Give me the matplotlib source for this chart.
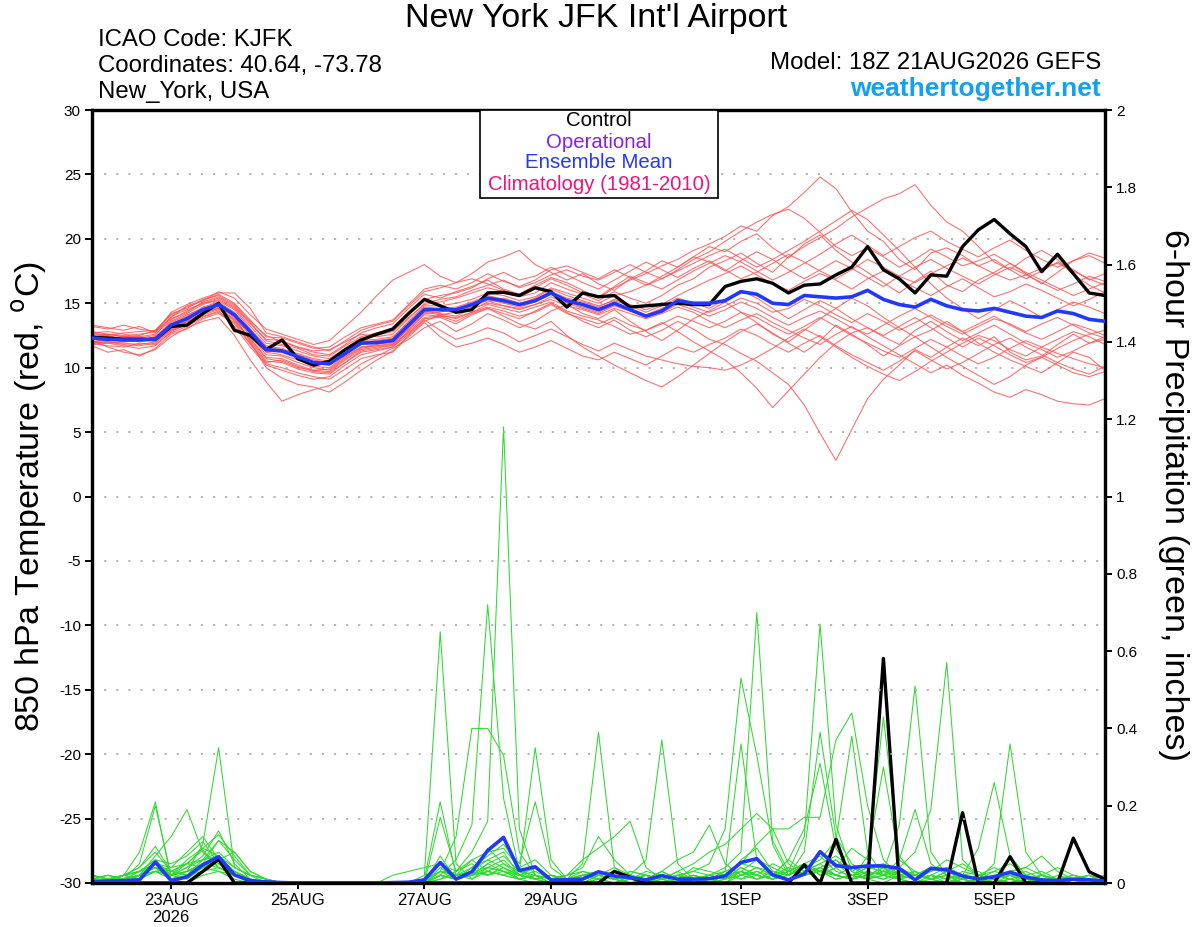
"""GEFS plume for New York JFK (KJFK), 18Z 21AUG2026 run: 850 hPa temperature
members (red) on the left axis, 6-hour precipitation members (green) on the
right axis, control in black and ensemble mean in blue. Agg, writes out.png."""
import matplotlib
matplotlib.use("Agg")
import matplotlib.pyplot as plt  # noqa: E402
import numpy as np  # noqa: E402
from matplotlib.patches import Rectangle  # noqa: E402

RED, GREEN, BLUE = "#ff5050", "#30d830", "#2238ff"
PURPLE, PINK, SKY = "#8a1ee6", "#f0127f", "#12a0f2"
plt.rcParams.update({"font.family": ["Liberation Sans", "DejaVu Sans"],
                     "font.size": 11, "axes.unicode_minus": False})

RUN_START = "2026-08-21T18:00"
FORECAST_HOURS = list(range(0, 385, 6))          # 65 steps, 6-hourly

TICK_DAYS = ["2026-08-23", "2026-08-25", "2026-08-27", "2026-08-29",
             "2026-09-01", "2026-09-03", "2026-09-05"]
TICK_LABELS = ["23AUG\n2026", "25AUG", "27AUG", "29AUG", "1SEP", "3SEP", "5SEP"]

# 850 hPa temperature, deg C
temp_control = [
    12.35, 12.3, 12.2, 12.2, 12.2, 13.2, 13.3, 14.2, 15.0, 12.9, 12.5, 11.4, 12.15,
    10.7, 10.2, 10.5, 11.4, 12.15, 12.6, 13.0, 14.2, 15.3, 14.8, 14.3, 14.5, 15.8,
    15.85, 15.6, 16.2, 15.9, 14.7, 15.8, 15.5, 15.6, 14.7, 14.8, 14.9, 15.0, 14.9,
    14.9, 16.3, 16.7, 16.9, 16.55, 15.8, 16.4, 16.5, 17.2, 17.8, 19.4, 17.6, 16.9,
    15.8, 17.2, 17.1, 19.4, 20.7, 21.5, 20.4, 19.4, 17.45, 18.8, 17.3, 15.8, 15.6]
temp_mean = [
    12.3, 12.2, 12.15, 12.15, 12.2, 13.3, 13.8, 14.5, 14.9, 14.1, 12.8, 11.4, 11.3,
    10.85, 10.4, 10.3, 11.1, 11.9, 11.95, 12.1, 13.3, 14.5, 14.5, 14.5, 14.9, 15.4,
    15.2, 14.9, 15.2, 15.8, 15.2, 14.9, 14.5, 15.0, 14.5, 14.0, 14.4, 15.2, 15.0,
    15.0, 15.2, 15.9, 15.7, 15.0, 14.9, 15.6, 15.5, 15.4, 15.5, 16.0, 15.3, 14.9,
    14.7, 15.3, 14.8, 14.5, 14.4, 14.6, 14.3, 14.0, 13.9, 14.4, 14.2, 13.75, 13.6]
temp_members = [
    [12.8, 12.6, 12.4, 12.5, 12.9, 14.2, 14.6, 15.3, 15.6, 14.9, 13.6, 12.5, 12.0,
     11.6, 11.2, 11.0, 11.8, 12.7, 13.1, 13.4, 14.6, 15.7, 15.4, 15.9, 16.3, 16.8,
     16.1, 15.7, 16.4, 17.0, 16.6, 16.0, 15.4, 16.2, 16.8, 17.3, 17.9, 18.4, 19.1,
     19.6, 20.2, 21.0, 20.6, 21.8, 22.5, 23.6, 24.8, 23.9, 22.1, 20.6, 19.8, 18.4,
     17.6, 18.9, 19.3, 18.7, 17.9, 18.4, 17.6, 16.9, 17.5, 18.2, 17.6, 16.8, 17.3],
    [11.9, 11.7, 11.6, 11.9, 11.8, 12.7, 13.2, 13.9, 14.4, 13.2, 11.6, 10.2, 9.8,
     9.4, 9.1, 9.3, 10.2, 11.0, 11.3, 11.6, 12.6, 13.8, 13.9, 13.4, 14.1, 14.6,
     14.2, 13.8, 14.4, 15.0, 14.3, 13.6, 13.1, 13.7, 12.9, 12.4, 12.9, 13.6, 13.0,
     12.2, 11.8, 11.1, 10.5, 9.6, 8.7, 7.1, 4.9, 2.8, 5.2, 7.6, 9.1, 10.2,
     11.4, 10.8, 11.6, 12.3, 11.7, 12.4, 11.2, 10.6, 10.9, 11.8, 12.6, 11.9, 12.4],
    [13.2, 13.0, 13.3, 13.0, 12.8, 13.9, 14.8, 15.2, 15.9, 15.4, 14.1, 13.0, 12.6,
     12.2, 11.8, 12.1, 13.2, 14.3, 15.6, 16.8, 17.4, 18.0, 17.1, 16.6, 17.3, 18.2,
     18.6, 19.1, 18.0, 17.4, 16.8, 17.3, 16.5, 16.0, 16.9, 17.5, 18.3, 17.8, 18.6,
     19.4, 19.0, 19.8, 20.4, 19.3, 18.5, 19.6, 20.3, 19.1, 18.2, 17.4, 16.6, 15.8,
     16.7, 17.5, 16.4, 15.9, 16.8, 17.4, 18.1, 17.3, 16.5, 17.4, 18.3, 18.7, 18.1],
    [12.1, 11.6, 11.2, 11.0, 11.4, 12.4, 13.1, 13.6, 13.9, 12.5, 10.6, 8.9, 7.4,
     7.9, 8.3, 8.6, 9.4, 10.3, 10.9, 11.5, 12.2, 13.1, 13.6, 12.8, 13.4, 14.2,
     13.7, 13.1, 13.6, 14.4, 14.9, 14.2, 13.8, 14.5, 13.6, 12.8, 12.1, 12.9, 13.8,
     14.4, 15.1, 14.3, 13.5, 12.6, 12.0, 12.9, 13.8, 14.6, 15.4, 14.8, 13.9, 13.1,
     12.4, 12.9, 13.6, 12.8, 11.9, 11.2, 10.6, 10.1, 9.6, 10.4, 11.2, 10.8, 9.8],
    [12.4, 12.5, 12.2, 12.0, 12.3, 13.6, 14.2, 14.9, 15.3, 14.6, 13.2, 11.9, 11.7,
     11.3, 10.9, 10.7, 11.5, 12.3, 12.5, 12.8, 13.9, 14.9, 15.1, 15.4, 15.8, 16.2,
     15.9, 15.5, 15.8, 16.6, 16.1, 15.7, 15.2, 15.9, 15.4, 15.0, 15.6, 16.4, 16.9,
     17.8, 18.3, 18.9, 18.1, 17.4, 18.6, 19.4, 20.1, 20.8, 21.7, 22.4, 23.1, 23.5,
     24.2, 22.6, 21.3, 20.6, 19.4, 18.2, 17.6, 18.5, 19.1, 18.4, 17.2, 16.4, 15.8],
    [12.0, 12.1, 12.3, 12.4, 12.0, 13.0, 13.5, 14.3, 14.6, 13.7, 12.3, 10.8, 10.7,
     10.2, 9.8, 9.7, 10.6, 11.4, 11.6, 11.7, 12.9, 14.1, 14.0, 13.6, 14.2, 14.6,
     14.0, 13.4, 13.0, 13.6, 12.5, 11.6, 10.9, 10.2, 9.6, 9.0, 8.5, 9.3, 10.2,
     11.1, 12.0, 12.8, 13.4, 12.7, 11.9, 11.2, 12.1, 13.3, 12.6, 11.8, 10.9, 11.7,
     12.4, 11.6, 10.8, 10.1, 9.4, 8.7, 9.3, 10.2, 10.8, 11.5, 12.1, 12.6, 12.9],
    [12.5, 12.3, 12.0, 12.1, 12.4, 13.4, 14.0, 14.7, 15.1, 14.3, 12.6, 11.2, 11.0,
     10.6, 10.1, 10.0, 10.9, 11.6, 11.8, 12.0, 13.2, 14.4, 14.2, 14.0, 14.6, 15.0,
     14.8, 14.5, 14.9, 15.3, 14.8, 14.5, 14.1, 14.6, 14.2, 13.8, 14.2, 14.7, 14.3,
     13.6, 13.1, 13.7, 14.2, 13.5, 12.9, 12.3, 11.8, 12.6, 13.2, 12.4, 11.7, 11.0,
     10.3, 9.6, 10.2, 9.4, 8.8, 8.1, 7.7, 8.3, 7.9, 7.4, 7.2, 7.1, 7.6],
    [11.8, 11.9, 11.7, 11.5, 11.7, 12.8, 13.4, 14.1, 14.5, 13.8, 12.1, 10.5, 10.4,
     9.9, 9.6, 9.5, 10.4, 11.2, 11.4, 11.6, 12.8, 13.9, 14.0, 13.9, 14.3, 14.9,
     14.6, 14.3, 14.7, 15.1, 14.4, 14.0, 13.7, 13.2, 12.6, 12.9, 13.5, 12.8, 12.0,
     11.3, 10.6, 9.6, 8.4, 6.9, 8.2, 9.5, 10.8, 11.9, 12.7, 13.1, 12.4, 11.8,
     12.9, 13.6, 12.8, 12.1, 12.7, 13.3, 12.6, 11.9, 11.4, 10.8, 11.3, 11.9, 12.2],
    [12.7, 12.8, 12.6, 12.3, 12.5, 14.0, 14.5, 15.0, 15.4, 14.7, 13.4, 12.2, 12.1,
     11.6, 11.3, 11.4, 12.0, 12.6, 12.4, 12.6, 13.8, 15.0, 15.3, 15.5, 16.0, 16.4,
     16.8, 16.2, 16.6, 17.2, 17.6, 17.1, 16.8, 17.4, 18.0, 17.4, 16.9, 17.6, 18.4,
     19.0, 19.8, 20.6, 21.3, 21.9, 22.3, 21.6, 20.5, 19.4, 18.7, 19.3, 18.6, 17.8,
     18.4, 19.2, 18.6, 17.9, 18.3, 18.8, 18.1, 17.4, 16.8, 16.2, 15.6, 16.1, 16.6],
    [12.2, 12.0, 11.9, 11.8, 12.0, 13.1, 13.6, 14.2, 14.7, 13.9, 12.5, 11.0, 10.9,
     10.4, 10.0, 9.8, 10.7, 11.5, 11.7, 11.9, 13.0, 14.2, 14.3, 14.6, 14.8, 15.2,
     14.8, 14.6, 14.9, 15.5, 15.0, 14.6, 14.2, 14.8, 14.4, 14.1, 14.6, 15.1, 14.7,
     14.3, 14.8, 15.4, 15.0, 14.3, 14.6, 15.3, 14.8, 14.1, 13.5, 14.2, 13.6, 12.9,
     13.5, 14.1, 13.4, 12.8, 13.4, 14.0, 13.3, 12.7, 12.2, 12.8, 13.4, 13.0, 12.5],
    [12.3, 12.6, 12.5, 12.6, 12.8, 13.8, 14.3, 15.1, 15.5, 14.8, 13.5, 12.1, 11.8,
     11.5, 11.0, 10.9, 11.7, 12.4, 12.7, 13.0, 14.1, 15.3, 15.6, 15.8, 16.2, 16.9,
     17.4, 16.8, 17.1, 17.8, 17.2, 16.6, 16.1, 16.8, 17.5, 18.2, 17.6, 17.0, 17.7,
     18.3, 17.6, 16.9, 17.4, 18.1, 18.8, 18.2, 17.5, 16.9, 17.6, 18.4, 17.8, 17.1,
     16.6, 17.3, 17.9, 18.5, 17.9, 17.3, 16.8, 17.2, 17.7, 18.1, 17.5, 16.9, 16.4],
    [11.7, 11.2, 11.4, 10.9, 11.5, 12.6, 13.0, 13.8, 14.2, 13.4, 11.8, 10.3, 10.0,
     9.6, 9.3, 9.1, 9.9, 10.7, 11.0, 11.2, 12.4, 13.5, 12.4, 11.6, 11.9, 12.3,
     11.8, 11.2, 11.6, 12.1, 11.5, 10.9, 10.6, 11.2, 10.7, 10.2, 10.9, 11.6, 11.2,
     11.8, 12.3, 13.0, 12.5, 11.8, 11.2, 11.9, 12.5, 11.7, 11.0, 10.4, 9.8, 10.5,
     11.3, 10.6, 9.9, 10.4, 11.1, 11.8, 12.3, 11.6, 11.0, 10.4, 9.9, 9.5, 10.1],
    [12.4, 12.2, 12.1, 12.3, 12.1, 13.2, 13.9, 14.4, 14.8, 14.0, 12.0, 10.0, 9.2,
     8.7, 8.5, 8.1, 8.9, 9.8, 10.6, 11.3, 12.5, 13.6, 14.1, 14.3, 14.5, 15.1,
     15.4, 15.0, 15.3, 15.9, 15.4, 15.1, 14.7, 15.3, 14.9, 14.5, 14.9, 15.6, 16.2,
     16.8, 17.3, 17.9, 17.2, 16.5, 16.0, 16.7, 17.3, 16.8, 16.1, 16.9, 17.5, 16.8,
     16.2, 15.6, 16.3, 16.9, 16.2, 15.5, 15.9, 16.5, 16.0, 15.4, 14.8, 15.3, 15.9],
    [12.6, 12.4, 12.3, 12.1, 12.4, 13.5, 14.1, 14.6, 14.9, 14.2, 12.9, 11.6, 11.4,
     11.1, 10.7, 10.5, 11.3, 12.1, 12.2, 12.4, 13.5, 14.7, 14.6, 14.7, 15.1, 15.6,
     15.3, 14.9, 15.4, 16.1, 15.6, 15.2, 14.8, 15.2, 14.8, 14.3, 14.8, 15.4, 15.0,
     14.6, 15.3, 16.0, 15.4, 14.6, 13.8, 14.5, 15.2, 14.6, 13.8, 13.1, 12.5, 13.2,
     13.9, 13.1, 12.3, 11.6, 12.3, 11.7, 11.0, 10.4, 10.8, 10.2, 9.6, 9.3, 9.7],
    [13.3, 13.1, 12.9, 13.2, 12.7, 14.3, 14.9, 15.4, 15.8, 15.8, 14.6, 12.7, 12.4,
     12.0, 11.6, 11.3, 12.1, 12.9, 13.3, 13.6, 14.8, 15.9, 16.2, 16.6, 16.9, 16.5,
     16.0, 15.7, 16.2, 16.9, 16.4, 15.8, 15.5, 16.3, 17.1, 16.6, 16.1, 16.8, 17.5,
     18.1, 18.7, 18.2, 17.5, 16.8, 17.4, 18.1, 18.8, 19.6, 20.3, 19.5, 18.7, 19.4,
     20.1, 20.6, 19.8, 19.2, 18.6, 19.3, 19.9, 19.1, 18.4, 17.8, 18.3, 18.9, 18.5],
    [12.0, 11.9, 12.0, 12.2, 12.1, 12.9, 13.3, 14.0, 14.3, 13.5, 11.9, 10.4, 10.6,
     10.1, 9.7, 9.6, 10.4, 11.3, 11.5, 11.8, 12.7, 13.7, 12.9, 12.2, 12.6, 13.1,
     12.7, 12.0, 12.5, 13.0, 12.4, 11.8, 11.3, 11.9, 11.4, 10.9, 10.6, 10.3, 10.1,
     10.0, 9.8, 10.2, 10.8, 11.5, 12.3, 13.0, 12.4, 11.6, 10.8, 10.1, 9.5, 9.0,
     9.7, 10.5, 11.2, 11.9, 12.5, 12.1, 11.4, 10.9, 11.6, 12.2, 12.8, 12.4, 11.8],
    [12.5, 12.6, 12.4, 12.4, 12.6, 13.7, 14.4, 15.0, 15.2, 14.5, 13.0, 11.7, 11.5,
     11.0, 10.6, 10.4, 11.2, 12.0, 12.1, 12.3, 13.6, 14.8, 14.8, 15.0, 15.3, 15.8,
     15.6, 15.2, 15.5, 16.2, 15.8, 15.4, 15.0, 15.6, 15.9, 16.4, 16.9, 17.5, 18.1,
     18.7, 19.2, 18.5, 17.8, 18.4, 19.1, 19.8, 20.6, 21.4, 22.2, 21.5, 20.3, 19.1,
     17.8, 16.5, 15.4, 14.6, 13.8, 14.5, 15.2, 14.6, 13.9, 14.5, 15.1, 14.7, 14.2],
    [12.2, 12.3, 12.4, 12.2, 12.3, 13.3, 13.8, 14.5, 15.0, 14.1, 12.7, 11.3, 11.2,
     10.8, 10.3, 10.2, 11.0, 11.8, 12.0, 12.2, 13.4, 14.6, 14.4, 14.3, 14.7, 15.3,
     15.0, 14.7, 15.1, 15.7, 15.1, 14.7, 14.3, 14.9, 14.4, 13.9, 14.3, 14.9, 14.5,
     14.0, 14.5, 15.1, 14.6, 13.9, 13.3, 13.9, 14.4, 13.8, 13.1, 12.6, 13.3, 14.0,
     14.6, 13.9, 13.2, 12.6, 13.2, 13.8, 13.4, 12.8, 13.4, 13.9, 13.3, 12.7, 12.3],
    [12.7, 12.5, 12.7, 12.8, 12.9, 14.1, 14.7, 15.2, 15.7, 15.0, 13.7, 12.4, 12.3,
     11.9, 11.5, 11.6, 12.4, 13.1, 13.4, 13.7, 14.9, 16.1, 16.4, 16.1, 16.6, 17.3,
     16.7, 16.3, 16.8, 17.6, 17.9, 17.4, 16.9, 17.6, 17.0, 16.4, 17.1, 17.8, 18.6,
     18.2, 17.5, 18.3, 19.0, 18.4, 17.6, 16.9, 17.6, 18.3, 17.7, 17.0, 16.3, 17.1,
     17.8, 18.4, 17.7, 17.1, 16.5, 17.2, 17.8, 17.2, 16.6, 16.0, 16.5, 17.1, 16.7],
    [11.9, 12.0, 11.8, 11.7, 11.9, 12.9, 13.6, 14.2, 14.6, 13.6, 12.2, 10.7, 10.5,
     10.0, 9.8, 9.9, 10.8, 11.6, 11.7, 11.8, 13.1, 14.3, 14.1, 13.8, 14.3, 14.7,
     14.4, 14.0, 14.3, 14.9, 14.2, 13.8, 13.4, 13.9, 13.3, 12.9, 13.4, 14.0, 13.6,
     13.1, 13.6, 14.3, 13.9, 13.2, 12.6, 13.2, 13.9, 13.2, 12.5, 11.9, 11.3, 10.8,
     11.5, 12.2, 11.6, 10.9, 10.3, 10.8, 11.5, 12.1, 11.6, 11.1, 10.7, 10.3, 10.0],
]

# 6-hour precipitation, inches
precip_control = [
    0, 0, 0, 0, 0, 0, 0, 0.03, 0.061, 0, 0, 0, 0,
    0, 0, 0, 0, 0, 0, 0, 0, 0, 0, 0, 0, 0,
    0, 0, 0, 0, 0, 0, 0, 0.03, 0.015, 0, 0, 0, 0,
    0, 0, 0, 0, 0, 0, 0.047, 0, 0.113, 0, 0, 0.581, 0,
    0, 0, 0, 0.182, 0, 0, 0.068, 0, 0, 0, 0.116, 0.029, 0.01]
precip_mean = [
    0.003, 0.005, 0.006, 0.008, 0.054, 0.006, 0.016, 0.047, 0.068, 0.021, 0.006, 0.003, 0.001,
    0, 0, 0, 0, 0, 0, 0.001, 0.002, 0.008, 0.053, 0.01, 0.029, 0.084,
    0.118, 0.032, 0.042, 0.008, 0.008, 0.01, 0.029, 0.018, 0.014, 0.008, 0.019, 0.01, 0.01,
    0.011, 0.018, 0.053, 0.063, 0.021, 0.008, 0.023, 0.081, 0.045, 0.04, 0.044, 0.044, 0.038,
    0.008, 0.038, 0.034, 0.018, 0.01, 0.016, 0.028, 0.015, 0.008, 0.006, 0.01, 0.008, 0.005]
precip_members = [
    [0.01, 0.01, 0.02, 0.08, 0.21, 0.01, 0, 0.02, 0.03, 0.01, 0, 0, 0,
     0, 0, 0, 0, 0, 0, 0, 0, 0.02, 0.65, 0.05, 0.01, 0.03,
     0.02, 0.01, 0, 0, 0, 0.01, 0.03, 0.01, 0, 0, 0.02, 0.01, 0,
     0, 0.01, 0.04, 0.02, 0.01, 0.03, 0.12, 0.67, 0.15, 0.03, 0.01, 0, 0.02,
     0.01, 0, 0, 0.02, 0.01, 0, 0, 0.01, 0, 0, 0, 0, 0],
    [0.02, 0.01, 0.01, 0.05, 0.20, 0.02, 0.01, 0.04, 0.06, 0.02, 0.01, 0, 0,
     0, 0, 0, 0, 0, 0, 0, 0, 0.01, 0.21, 0.02, 0.03, 0.06,
     0.04, 0.02, 0.01, 0, 0.01, 0, 0.02, 0.04, 0.02, 0.01, 0, 0, 0.01,
     0.02, 0.01, 0.06, 0.09, 0.03, 0.02, 0.08, 0.39, 0.12, 0.05, 0.02, 0.04, 0.01,
     0.03, 0.01, 0, 0.01, 0.02, 0.01, 0.03, 0.01, 0, 0.01, 0, 0, 0],
    [0.01, 0, 0.02, 0.04, 0.095, 0.03, 0.05, 0.09, 0.07, 0.03, 0.01, 0, 0,
     0, 0, 0, 0, 0, 0, 0, 0, 0, 0.17, 0.03, 0.05, 0.02,
     0.03, 0.01, 0.02, 0, 0, 0.02, 0.01, 0, 0.01, 0.02, 0.01, 0, 0.02,
     0.01, 0.03, 0.05, 0.10, 0.14, 0.14, 0.17, 0.17, 0.37, 0.44, 0.20, 0.06, 0.02,
     0.01, 0.02, 0, 0.01, 0, 0.02, 0.01, 0, 0.01, 0, 0, 0.01, 0],
    [0, 0.01, 0.01, 0.03, 0.06, 0.02, 0.03, 0.05, 0.11, 0.06, 0.02, 0.01, 0,
     0, 0, 0, 0, 0, 0, 0, 0, 0, 0.07, 0.01, 0.02, 0.09,
     0.05, 0.03, 0.02, 0.01, 0, 0, 0.01, 0.02, 0.01, 0, 0.01, 0.03, 0.01,
     0, 0.02, 0.03, 0.01, 0.02, 0.06, 0.14, 0.31, 0.09, 0.03, 0.05, 0.02, 0.01,
     0, 0.01, 0.02, 0.01, 0, 0, 0.02, 0.01, 0, 0, 0.01, 0, 0],
    [0.01, 0.02, 0.01, 0.02, 0.07, 0.12, 0.19, 0.08, 0.04, 0.02, 0.01, 0, 0,
     0, 0, 0, 0, 0, 0, 0, 0, 0.01, 0.03, 0.12, 0.40, 0.40,
     0.33, 0.08, 0.02, 0, 0.01, 0.01, 0.02, 0.01, 0, 0.01, 0.03, 0.01, 0,
     0.01, 0, 0.02, 0.01, 0.03, 0.02, 0.04, 0.06, 0.11, 0.38, 0.08, 0.02, 0.01,
     0, 0.02, 0.01, 0, 0.01, 0.02, 0.01, 0, 0, 0.01, 0.01, 0, 0],
    [0, 0.01, 0, 0.02, 0.04, 0.01, 0.03, 0.10, 0.35, 0.04, 0.02, 0.01, 0,
     0, 0, 0, 0, 0, 0, 0, 0, 0, 0.02, 0.06, 0.15, 0.72,
     0.22, 0.03, 0.01, 0.02, 0, 0, 0.01, 0.02, 0, 0, 0.01, 0, 0.01,
     0.02, 0.03, 0.01, 0.02, 0.01, 0.03, 0.05, 0.02, 0.04, 0.09, 0.06, 0.43, 0.07,
     0.02, 0.01, 0, 0.01, 0, 0, 0.01, 0, 0.02, 0.01, 0, 0, 0],
    [0.01, 0, 0.01, 0.01, 0.03, 0.02, 0.04, 0.07, 0.135, 0.05, 0.01, 0, 0,
     0, 0, 0, 0, 0, 0, 0, 0, 0, 0.01, 0.03, 0.08, 0.16,
     1.18, 0.14, 0.02, 0.01, 0, 0.02, 0.01, 0, 0.01, 0.02, 0, 0.01, 0.02,
     0, 0.01, 0.02, 0.04, 0.02, 0.01, 0.03, 0.05, 0.02, 0.01, 0.07, 0.30, 0.06,
     0.03, 0.01, 0.02, 0, 0, 0.01, 0, 0.01, 0, 0, 0.01, 0.02, 0],
    [0, 0.01, 0.02, 0.03, 0.05, 0.02, 0.06, 0.09, 0.125, 0.07, 0.02, 0.01, 0,
     0, 0, 0, 0, 0, 0, 0, 0, 0, 0.04, 0.01, 0.02, 0.05,
     0.07, 0.03, 0.35, 0.06, 0.01, 0, 0.02, 0.01, 0, 0.01, 0, 0.02, 0.01,
     0.01, 0, 0.03, 0.02, 0.01, 0.04, 0.02, 0.03, 0.01, 0.02, 0.04, 0.03, 0.15,
     0.51, 0.08, 0.02, 0.01, 0, 0.01, 0.02, 0, 0.01, 0, 0, 0.01, 0],
    [0.02, 0.01, 0.01, 0.02, 0.04, 0.03, 0.05, 0.06, 0.11, 0.08, 0.03, 0.01, 0,
     0, 0, 0, 0, 0, 0, 0, 0, 0, 0.03, 0.02, 0.04, 0.07,
     0.10, 0.05, 0.21, 0.04, 0.01, 0.02, 0.01, 0, 0.02, 0.01, 0.02, 0.01, 0,
     0.02, 0.01, 0.04, 0.02, 0.05, 0.03, 0.02, 0.04, 0.06, 0.03, 0.01, 0.02, 0.06,
     0.19, 0.05, 0.02, 0, 0.01, 0, 0.01, 0.02, 0, 0.01, 0, 0, 0.01],
    [0.01, 0, 0.02, 0.03, 0.05, 0.04, 0.08, 0.12, 0.06, 0.03, 0.01, 0, 0,
     0, 0, 0, 0, 0, 0, 0, 0, 0, 0.02, 0.01, 0.03, 0.04,
     0.06, 0.02, 0.01, 0.02, 0.01, 0.05, 0.39, 0.04, 0.01, 0, 0.01, 0.02, 0,
     0.01, 0.02, 0.03, 0.01, 0.02, 0.01, 0.03, 0.04, 0.02, 0.01, 0.03, 0.02, 0.04,
     0.08, 0.19, 0.57, 0.06, 0.02, 0.01, 0, 0.01, 0.02, 0, 0.01, 0, 0],
    [0.02, 0.01, 0.01, 0.03, 0.06, 0.05, 0.07, 0.107, 0.05, 0.02, 0.01, 0, 0,
     0, 0, 0, 0, 0, 0, 0, 0, 0.01, 0.05, 0.02, 0.06, 0.03,
     0.05, 0.02, 0.03, 0.01, 0.02, 0.04, 0.12, 0.06, 0.02, 0.01, 0.03, 0.01, 0.02,
     0.01, 0.02, 0.01, 0.03, 0.02, 0.04, 0.02, 0.03, 0.05, 0.02, 0.01, 0.03, 0.02,
     0.01, 0.03, 0.04, 0.02, 0.09, 0.26, 0.07, 0.02, 0, 0.01, 0.02, 0.01, 0],
    [0, 0.01, 0.01, 0.02, 0.04, 0.02, 0.05, 0.085, 0.04, 0.02, 0, 0, 0,
     0, 0, 0, 0, 0, 0, 0, 0, 0, 0.02, 0.01, 0.02, 0.05,
     0.03, 0.01, 0.02, 0.01, 0.02, 0.06, 0.09, 0.12, 0.16, 0.04, 0.01, 0.02, 0.01,
     0.02, 0.01, 0.03, 0.02, 0.01, 0.02, 0.04, 0.03, 0.02, 0.01, 0.02, 0.03, 0.01,
     0.02, 0.01, 0.03, 0.02, 0.01, 0.05, 0.36, 0.08, 0.02, 0.01, 0, 0.01, 0],
    [0.01, 0.02, 0.01, 0.02, 0.03, 0.02, 0.03, 0.05, 0.06, 0.08, 0.03, 0.01, 0,
     0, 0, 0, 0, 0, 0, 0, 0, 0, 0.01, 0.02, 0.03, 0.02,
     0.04, 0.02, 0.01, 0, 0.01, 0.02, 0.03, 0.01, 0.02, 0.06, 0.37, 0.05, 0.01,
     0.02, 0.01, 0.02, 0.04, 0.03, 0.02, 0.05, 0.03, 0.02, 0.04, 0.02, 0.01, 0.03,
     0.02, 0.04, 0.03, 0.02, 0.01, 0.02, 0.03, 0.04, 0.07, 0.03, 0.01, 0.02, 0.01],
    [0, 0.01, 0.02, 0.04, 0.08, 0.03, 0.02, 0.04, 0.05, 0.03, 0.01, 0, 0,
     0, 0, 0, 0, 0, 0, 0, 0, 0.01, 0.05, 0.01, 0.02, 0.03,
     0.02, 0.04, 0.01, 0.02, 0.01, 0.01, 0.02, 0.03, 0.02, 0.01, 0.03, 0.06, 0.08,
     0.15, 0.05, 0.02, 0.03, 0.01, 0.02, 0.04, 0.03, 0.06, 0.02, 0.01, 0.02, 0.03,
     0.01, 0.02, 0.04, 0.02, 0.01, 0.03, 0.02, 0.01, 0.02, 0.04, 0.02, 0.01, 0],
    [0.02, 0.01, 0, 0.02, 0.05, 0.02, 0.04, 0.06, 0.07, 0.04, 0.02, 0, 0,
     0, 0, 0, 0, 0, 0, 0, 0, 0, 0.03, 0.02, 0.01, 0.04,
     0.03, 0.02, 0.01, 0.02, 0, 0.01, 0.02, 0.01, 0.03, 0.02, 0.01, 0.02, 0.03,
     0.05, 0.14, 0.53, 0.33, 0.10, 0.02, 0.04, 0.03, 0.01, 0.02, 0.03, 0.02, 0.01,
     0.02, 0.01, 0.03, 0.01, 0.02, 0.04, 0.02, 0.01, 0, 0.02, 0.01, 0, 0],
    [0.01, 0, 0.01, 0.02, 0.03, 0.01, 0.02, 0.03, 0.04, 0.02, 0.01, 0, 0,
     0, 0, 0, 0, 0, 0, 0, 0, 0, 0.02, 0.01, 0.03, 0.02,
     0.04, 0.01, 0.02, 0.01, 0.02, 0.03, 0.02, 0.01, 0.02, 0.01, 0.02, 0.01, 0.02,
     0.01, 0.03, 0.36, 0.06, 0.02, 0.03, 0.05, 0.02, 0.04, 0.01, 0.02, 0.03, 0.02,
     0.01, 0.02, 0.01, 0.03, 0.02, 0.01, 0.02, 0.03, 0.01, 0, 0.01, 0.02, 0.01],
    [0, 0.01, 0.02, 0.01, 0.03, 0.02, 0.03, 0.04, 0.03, 0.02, 0, 0, 0,
     0, 0, 0, 0, 0, 0, 0, 0, 0, 0.02, 0.01, 0.02, 0.04,
     0.03, 0.02, 0.01, 0.02, 0.01, 0.02, 0.03, 0.02, 0.01, 0.02, 0.01, 0.03, 0.05,
     0.08, 0.10, 0.14, 0.18, 0.14, 0.05, 0.02, 0.03, 0.02, 0.01, 0.02, 0.04, 0.02,
     0.01, 0.02, 0.01, 0.02, 0.03, 0.01, 0.02, 0.01, 0.02, 0.01, 0, 0.01, 0],
    [0.01, 0.01, 0.02, 0.03, 0.04, 0.02, 0.03, 0.05, 0.04, 0.03, 0.01, 0, 0,
     0, 0, 0, 0, 0, 0, 0, 0, 0, 0.02, 0.01, 0.02, 0.03,
     0.02, 0.01, 0.02, 0.01, 0.01, 0.02, 0.01, 0.02, 0.01, 0.02, 0.01, 0.02, 0.01,
     0.02, 0.04, 0.08, 0.70, 0.11, 0.03, 0.02, 0.04, 0.02, 0.01, 0.02, 0.01, 0.02,
     0.03, 0.01, 0.02, 0.01, 0.02, 0.01, 0, 0.02, 0.01, 0.01, 0, 0, 0.01],
    [0.01, 0.02, 0.01, 0.02, 0.05, 0.03, 0.02, 0.06, 0.08, 0.04, 0.02, 0.01, 0,
     0, 0, 0, 0, 0, 0, 0.02, 0.03, 0.04, 0.05, 0.03, 0.06, 0.08,
     0.09, 0.04, 0.06, 0.02, 0.01, 0.03, 0.02, 0.01, 0.03, 0.02, 0.01, 0.02, 0.03,
     0.02, 0.01, 0.03, 0.06, 0.04, 0.02, 0.05, 0.07, 0.03, 0.02, 0.04, 0.05, 0.02,
     0.01, 0.03, 0.06, 0.04, 0.02, 0.03, 0.05, 0.02, 0.03, 0.01, 0.02, 0.01, 0.02],
    [0.02, 0.01, 0.01, 0.02, 0.03, 0.04, 0.05, 0.04, 0.06, 0.02, 0.01, 0, 0,
     0, 0, 0, 0, 0, 0, 0, 0, 0, 0.03, 0.01, 0.04, 0.06,
     0.08, 0.02, 0.04, 0.01, 0, 0.02, 0.03, 0.02, 0.01, 0.03, 0.02, 0.01, 0.04,
     0.03, 0.02, 0.05, 0.04, 0.02, 0.06, 0.03, 0.05, 0.07, 0.04, 0.02, 0.03, 0.04,
     0.02, 0.04, 0.03, 0.05, 0.02, 0.01, 0.03, 0.04, 0.02, 0.01, 0.01, 0.02, 0],
]


def px(x, y):
    """Pixel position on the 1200x927 canvas -> figure fraction."""
    return x / 1200, 1 - y / 927


def main():
    times = np.datetime64(RUN_START) + np.array(FORECAST_HOURS) * np.timedelta64(1, "h")

    fig = plt.figure(figsize=(12, 9.27), dpi=100)
    ax = fig.add_axes([92 / 1200, 1 - 883 / 927, 1013 / 1200, 773 / 927])
    ax2 = ax.twinx()

    # precipitation plume on the right axis
    for m in precip_members:
        ax2.plot(times, m, color=GREEN, lw=0.75, zorder=2)
    ax2.plot(times, precip_control, color="black", lw=2.4, zorder=4)
    ax2.plot(times, precip_mean, color=BLUE, lw=2.6, zorder=5)

    # temperature plume on the left axis
    for m in temp_members:
        ax.plot(times, m, color=RED, lw=0.75, alpha=0.85, zorder=2)
    ax.plot(times, temp_control, color="black", lw=2.4, zorder=4)
    ax.plot(times, temp_mean, color=BLUE, lw=2.6, zorder=5)
    ax.set_zorder(ax2.get_zorder() + 1)
    ax.patch.set_visible(False)

    ax.set_xlim(times[0], times[-1])
    ax.set_ylim(-30, 30)
    ax2.set_ylim(0, 2)
    ax.set_yticks(range(-30, 31, 5))
    ax2.set_yticks(np.arange(0, 2.01, 0.2))
    ax2.set_yticklabels([f"{v:g}" for v in np.arange(0, 2.01, 0.2).round(1)])
    ax.set_xticks([np.datetime64(d) for d in TICK_DAYS])
    ax.set_xticklabels(TICK_LABELS, linespacing=1.15)
    ax.grid(axis="y", color="#b0b0b0", ls=(0, (1.2, 5.5)), lw=1.3)

    for a in (ax, ax2):
        a.tick_params(direction="out", length=5, width=1.4, labelsize=11, pad=3)
        for sp in a.spines.values():
            sp.set_linewidth(2.3)
    ax.tick_params(axis="x", length=4, pad=3, labelsize=12)

    # header texts
    fig.text(*px(596, 19), "New York JFK Int'l Airport", ha="center", va="center",
             fontsize=24.5)
    for y, s in ((40, "ICAO Code: KJFK"), (66, "Coordinates: 40.64, -73.78"),
                 (92, "New_York, USA")):
        fig.text(*px(98, y), s, ha="left", va="center", fontsize=17.3)
    fig.text(*px(1101, 63), "Model: 18Z 21AUG2026 GEFS", ha="right", va="center",
             fontsize=17.3)
    fig.text(*px(1101, 89), "weathertogether.net", ha="right", va="center",
             fontsize=19, fontweight="bold", color=SKY)

    # axis titles
    fig.text(*px(30, 496), "850 hPa Temperature (red, $^{\\rm o}$C)", rotation=90,
             ha="center", va="center", fontsize=24.5)
    fig.text(*px(1174, 495), "6-hour Precipitation (green, inches)", rotation=270,
             ha="center", va="center", fontsize=24.5)

    # key box
    x0, y0 = px(480, 198)
    fig.add_artist(Rectangle((x0, y0), 238 / 1200, 88 / 927, transform=fig.transFigure,
                             facecolor="white", edgecolor="black", lw=1.2, zorder=10))
    for y, s, c in ((121, "Control", "black"), (142, "Operational", PURPLE),
                    (163, "Ensemble Mean", BLUE), (185, "Climatology (1981-2010)", PINK)):
        fig.text(*px(599, y), s, ha="center", va="center", fontsize=14.7, color=c,
                 zorder=11)

    fig.savefig("out.png", dpi=100)
    print("wrote out.png")


if __name__ == "__main__":
    main()
